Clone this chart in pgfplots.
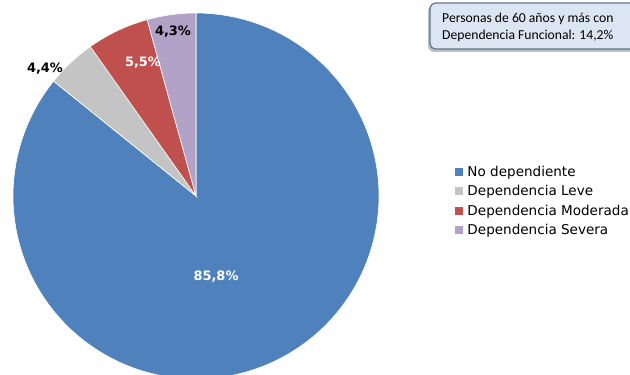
\documentclass[border=0pt]{standalone}
\usepackage{pgfplots}
\pgfplotsset{compat=1.18}
\usepackage{fontspec}
\setmainfont{DejaVu Sans}
\newfontfamily\carlito{Carlito}
\definecolor{cBlue}{HTML}{4F81BD}
\definecolor{cGray}{HTML}{C4C4C4}
\definecolor{cRed}{HTML}{C0504D}
\definecolor{cPurple}{HTML}{B3A2C7}
\definecolor{boxfill}{HTML}{DCE6F2}
\definecolor{boxdraw}{HTML}{5B7598}
% cumulative percentages (counter-clockwise from 12 o'clock):
% Severa 4.3, Moderada 5.5, Leve 4.4, No dependiente 85.8
\newcommand\slice[3]{%
  \addplot[fill=#1, draw=white, line width=0.6pt, domain={90+3.6*#2}:{90+3.6*#3}, samples=120]
    ({196+183*cos(x)},{178+183*sin(x)}) -- (axis cs:196,178) -- cycle;
}
\begin{document}
\begin{tikzpicture}
\begin{axis}[hide axis, scale only axis, width=630bp, height=374bp,
  xmin=0, xmax=630, ymin=0, ymax=374, clip=true,
  legend style={at={(axis cs:455,210)}, anchor=north west, draw=none, fill=none,
    font=\fontsize{13.6}{15}\selectfont, row sep=3.6bp, inner sep=0pt, cells={anchor=west}},
  legend image code/.code={\fill[#1,draw=none] (0bp,-4bp) rectangle (8bp,4bp); \path (10bp,0);},
]
\slice{cBlue}{14.2}{100}
\addlegendentry{No dependiente}
\slice{cGray}{9.8}{14.2}
\addlegendentry{Dependencia Leve}
\slice{cRed}{4.3}{9.8}
\addlegendentry{Dependencia Moderada}
\slice{cPurple}{0}{4.3}
\addlegendentry{Dependencia Severa}
\coordinate (SW) at (rel axis cs:0,0);
\coordinate (NE) at (rel axis cs:1,1);
\node[font=\bfseries\fontsize{13}{15}\selectfont, text=white] at (axis cs:216,97) {85,8\%};
\node[font=\bfseries\fontsize{13}{15}\selectfont, text=black] at (axis cs:173,342) {4,3\%};
\node[font=\bfseries\fontsize{13}{15}\selectfont, text=white] at (axis cs:143,311) {5,5\%};
\node[font=\bfseries\fontsize{13}{15}\selectfont, text=black] at (axis cs:45,305) {4,4\%};
\fill[black!25, rounded corners=6bp] (axis cs:428,322) rectangle (axis cs:660,369);
\filldraw[fill=boxfill, draw=boxdraw, line width=1.2pt, rounded corners=6bp] (axis cs:430,325) rectangle (axis cs:660,371);
\node[anchor=west, inner sep=0pt, font=\carlito\fontsize{13.7}{15}\selectfont] at (axis cs:442,355) {Personas de 60 años y más con};
\node[anchor=west, inner sep=0pt, font=\carlito\fontsize{13.7}{15}\selectfont] at (axis cs:442,338) {Dependencia Funcional: 14,2\%};
\end{axis}
\pgfresetboundingbox
\path (SW) rectangle (NE);
\end{tikzpicture}
\end{document}
